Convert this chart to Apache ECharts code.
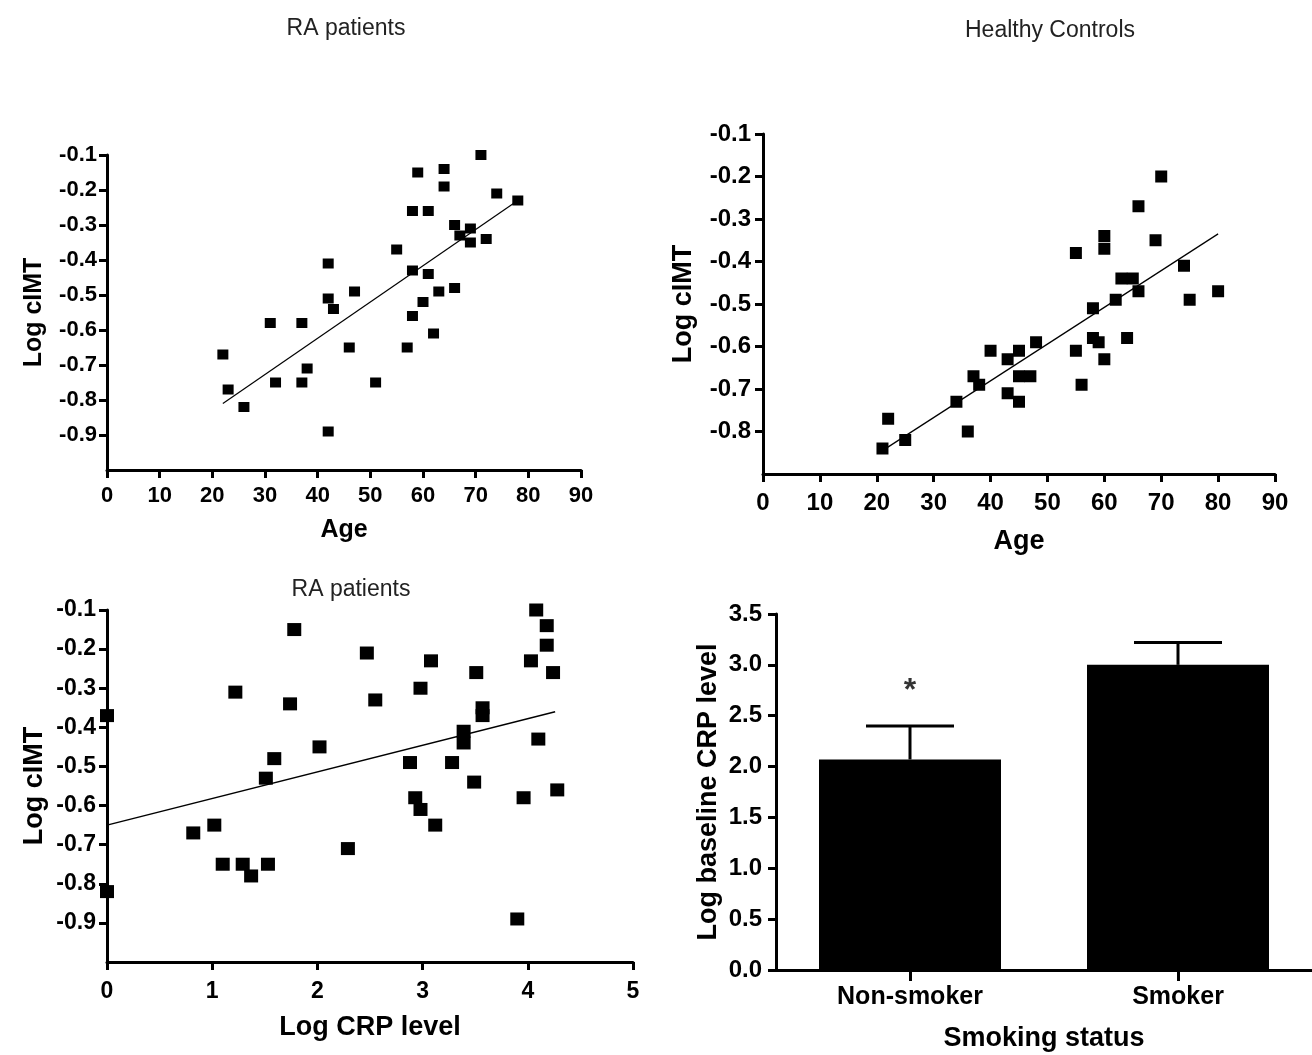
<!DOCTYPE html>
<html>
<head>
<meta charset="utf-8">
<style>
html,body{margin:0;padding:0;background:#fff;}
#chart{width:1312px;height:1055px;}
</style>
<script src="https://cdn.jsdelivr.net/npm/echarts@6/dist/echarts.min.js"></script>
</head>
<body>
<div id="chart"></div>
<script>
// ---------- Data ----------
// Panel A: RA patients, Age vs Log cIMT
const raAge = [22,23,26,31,32,37,37,38,42,42,43,42,46,47,51,55,57,58,58,58,59,60,61,61,62,63,64,64,66,66,67,69,69,71,72,74,78];
const raAgeCimt = [-0.67,-0.77,-0.82,-0.58,-0.75,-0.58,-0.75,-0.71,-0.41,-0.51,-0.54,-0.89,-0.65,-0.49,-0.75,-0.37,-0.65,-0.26,-0.43,-0.56,-0.15,-0.52,-0.26,-0.44,-0.61,-0.49,-0.14,-0.19,-0.48,-0.30,-0.33,-0.31,-0.35,-0.10,-0.34,-0.21,-0.23];
const raAgeFitX = [22, 78];
const raAgeFitY = [-0.81, -0.23];

// Panel B: Healthy controls, Age vs Log cIMT
const hcAge = [21,22,25,34,36,37,38,40,43,43,45,45,45,47,48,55,55,56,58,58,59,60,60,60,62,63,64,65,66,66,69,70,74,75,80];
const hcCimt = [-0.84,-0.77,-0.82,-0.73,-0.80,-0.67,-0.69,-0.61,-0.63,-0.71,-0.61,-0.67,-0.73,-0.67,-0.59,-0.38,-0.61,-0.69,-0.51,-0.58,-0.59,-0.34,-0.37,-0.63,-0.49,-0.44,-0.58,-0.44,-0.27,-0.47,-0.35,-0.20,-0.41,-0.49,-0.47];
const hcFitX = [21, 80];
const hcFitY = [-0.845, -0.335];

// Panel C: RA patients, Log CRP vs Log cIMT
const crpLevel = [0,0,0.82,1.02,1.10,1.22,1.29,1.37,1.53,1.51,1.59,1.74,1.78,2.02,2.29,2.47,2.55,2.88,2.93,2.98,2.98,3.08,3.12,3.28,3.39,3.39,3.49,3.51,3.57,3.57,3.90,3.96,4.03,4.08,4.10,4.18,4.18,4.24,4.28];
const crpCimt = [-0.37,-0.82,-0.67,-0.65,-0.75,-0.31,-0.75,-0.78,-0.75,-0.53,-0.48,-0.34,-0.15,-0.45,-0.71,-0.21,-0.33,-0.49,-0.58,-0.30,-0.61,-0.23,-0.65,-0.49,-0.41,-0.44,-0.54,-0.26,-0.35,-0.37,-0.89,-0.58,-0.23,-0.10,-0.43,-0.19,-0.14,-0.26,-0.56];
const crpFitX = [0, 4.26];
const crpFitY = [-0.65, -0.36];

// Panel D: Smoking status vs Log baseline CRP
const smokeCats = ['Non-smoker', 'Smoker'];
const smokeMeans = [2.07, 3.00];
const smokeUpper = [2.40, 3.22];
const smokeSigY = 2.74; // asterisk position above Non-smoker

// Tick labels
const yTicksRA = [-0.9,-0.8,-0.7,-0.6,-0.5,-0.4,-0.3,-0.2,-0.1];
const yTicksHC = [-0.8,-0.7,-0.6,-0.5,-0.4,-0.3,-0.2,-0.1];

// ---------- helpers ----------
const zip = (a, b) => a.map((v, i) => [v, b[i]]);
const FONT = "'Liberation Sans', Arial, Helvetica, sans-serif";
const AXW = 3;

function lbl(size, margin, extra) {
  return Object.assign({ color: '#000', fontWeight: 'bold', fontFamily: FONT, fontSize: size, margin: margin }, extra || {});
}
function nm(size) {
  return { color: '#000', fontWeight: 'bold', fontFamily: FONT, fontSize: size };
}
function valAxis(opts) {
  return Object.assign({
    type: 'value',
    splitLine: { show: false },
    axisLine: { show: true, onZero: false, lineStyle: { color: '#000', width: AXW } },
    axisTick: { show: true, length: 8, lineStyle: { color: '#000', width: AXW } },
    nameLocation: 'middle'
  }, opts);
}
function yTicks(vals) {
  return { show: true, length: 8, customValues: vals, lineStyle: { color: '#000', width: AXW } };
}

const chart = echarts.init(document.getElementById('chart'), null, { renderer: 'canvas' });

const titleStyle = { fontFamily: FONT, fontWeight: 'normal', fontSize: 23, color: '#222' };

const option = {
  backgroundColor: '#fff',
  animation: false,
  title: [
    { text: 'RA patients', left: 341, top: 12, textAlign: 'center', textStyle: titleStyle },
    { text: 'Healthy Controls', left: 1045, top: 14, textAlign: 'center', textStyle: titleStyle },
    { text: 'RA patients', left: 346, top: 573, textAlign: 'center', textStyle: titleStyle }
  ],
  grid: [
    { left: 107, top: 155, width: 474, height: 315 },
    { left: 763, top: 134, width: 512, height: 340 },
    { left: 107, top: 610, width: 526, height: 352 },
    { left: 776, top: 614, width: 536, height: 356 }
  ],
  xAxis: [
    valAxis({ gridIndex: 0, min: 0, max: 90, interval: 10, name: 'Age', nameGap: 48,
      nameTextStyle: nm(25), axisLabel: lbl(22, 15) }),
    valAxis({ gridIndex: 1, min: 0, max: 90, interval: 10, name: 'Age', nameGap: 54,
      nameTextStyle: nm(27), axisLabel: lbl(24, 17) }),
    valAxis({ gridIndex: 2, min: 0, max: 5, interval: 1, name: 'Log CRP level', nameGap: 52,
      nameTextStyle: nm(27), axisLabel: lbl(23, 18) }),
    {
      type: 'category', gridIndex: 3, data: smokeCats, boundaryGap: true,
      name: 'Smoking status', nameLocation: 'middle', nameGap: 55,
      nameTextStyle: nm(27),
      axisLine: { show: true, lineStyle: { color: '#000', width: AXW } },
      axisTick: { show: true, alignWithLabel: true, length: 11, lineStyle: { color: '#000', width: AXW } },
      axisLabel: lbl(25, 15)
    }
  ],
  yAxis: [
    valAxis({ gridIndex: 0, min: -1.0, max: -0.1, name: 'Log cIMT', nameGap: 60,
      nameTextStyle: nm(25), axisTick: yTicks(yTicksRA),
      axisLabel: lbl(22, 10, { customValues: yTicksRA, formatter: v => v.toFixed(1) }) }),
    valAxis({ gridIndex: 1, min: -0.9, max: -0.1, name: 'Log cIMT', nameGap: 66,
      nameTextStyle: nm(27), axisTick: yTicks(yTicksHC),
      axisLabel: lbl(24, 12, { customValues: yTicksHC, formatter: v => v.toFixed(1) }) }),
    valAxis({ gridIndex: 2, min: -1.0, max: -0.1, name: 'Log cIMT', nameGap: 59,
      nameTextStyle: nm(27), axisTick: yTicks(yTicksRA),
      axisLabel: lbl(23, 11, { customValues: yTicksRA, formatter: v => v.toFixed(1) }) }),
    valAxis({ gridIndex: 3, min: 0, max: 3.5, interval: 0.5, name: 'Log baseline CRP level', nameGap: 54,
      nameTextStyle: nm(27),
      axisLabel: lbl(24, 14, { formatter: v => v.toFixed(1) }) })
  ],
  series: [
    { type: 'scatter', xAxisIndex: 0, yAxisIndex: 0, data: zip(raAge, raAgeCimt),
      symbol: 'rect', symbolSize: [11, 10], itemStyle: { color: '#000', opacity: 1 }, clip: false },
    { type: 'line', xAxisIndex: 0, yAxisIndex: 0, data: zip(raAgeFitX, raAgeFitY),
      showSymbol: false, lineStyle: { color: '#000', width: 1.2 } },

    { type: 'scatter', xAxisIndex: 1, yAxisIndex: 1, data: zip(hcAge, hcCimt),
      symbol: 'rect', symbolSize: [12, 12], itemStyle: { color: '#000', opacity: 1 }, clip: false },
    { type: 'line', xAxisIndex: 1, yAxisIndex: 1, data: zip(hcFitX, hcFitY),
      showSymbol: false, lineStyle: { color: '#000', width: 1.2 } },

    { type: 'scatter', xAxisIndex: 2, yAxisIndex: 2, data: zip(crpLevel, crpCimt),
      symbol: 'rect', symbolSize: [14, 13], itemStyle: { color: '#000', opacity: 1 }, clip: false },
    { type: 'line', xAxisIndex: 2, yAxisIndex: 2, data: zip(crpFitX, crpFitY),
      showSymbol: false, lineStyle: { color: '#000', width: 1.5 } },

    { type: 'bar', xAxisIndex: 3, yAxisIndex: 3, data: smokeMeans, barWidth: 182,
      itemStyle: { color: '#000' }, z: 2 },
    { type: 'custom', xAxisIndex: 3, yAxisIndex: 3, z: 3,
      data: smokeMeans.map((m, i) => [i, m, smokeUpper[i]]),
      renderItem: function (params, api) {
        const base = api.coord([api.value(0), api.value(1)]);
        const top = api.coord([api.value(0), api.value(2)]);
        const hw = 44;
        const st = { stroke: '#000', lineWidth: 3 };
        return { type: 'group', children: [
          { type: 'line', shape: { x1: base[0], y1: base[1], x2: top[0], y2: top[1] }, style: st },
          { type: 'line', shape: { x1: top[0] - hw, y1: top[1], x2: top[0] + hw, y2: top[1] }, style: st }
        ] };
      }
    },
    { type: 'scatter', xAxisIndex: 3, yAxisIndex: 3, data: [[0, smokeSigY]], symbolSize: 1,
      itemStyle: { color: 'rgba(0,0,0,0)' },
      label: { show: true, position: 'inside', formatter: '*', color: '#000',
        fontFamily: FONT, fontWeight: 'bold', fontSize: 32 } }
  ]
};
chart.setOption(option);
</script>
</body>
</html>
